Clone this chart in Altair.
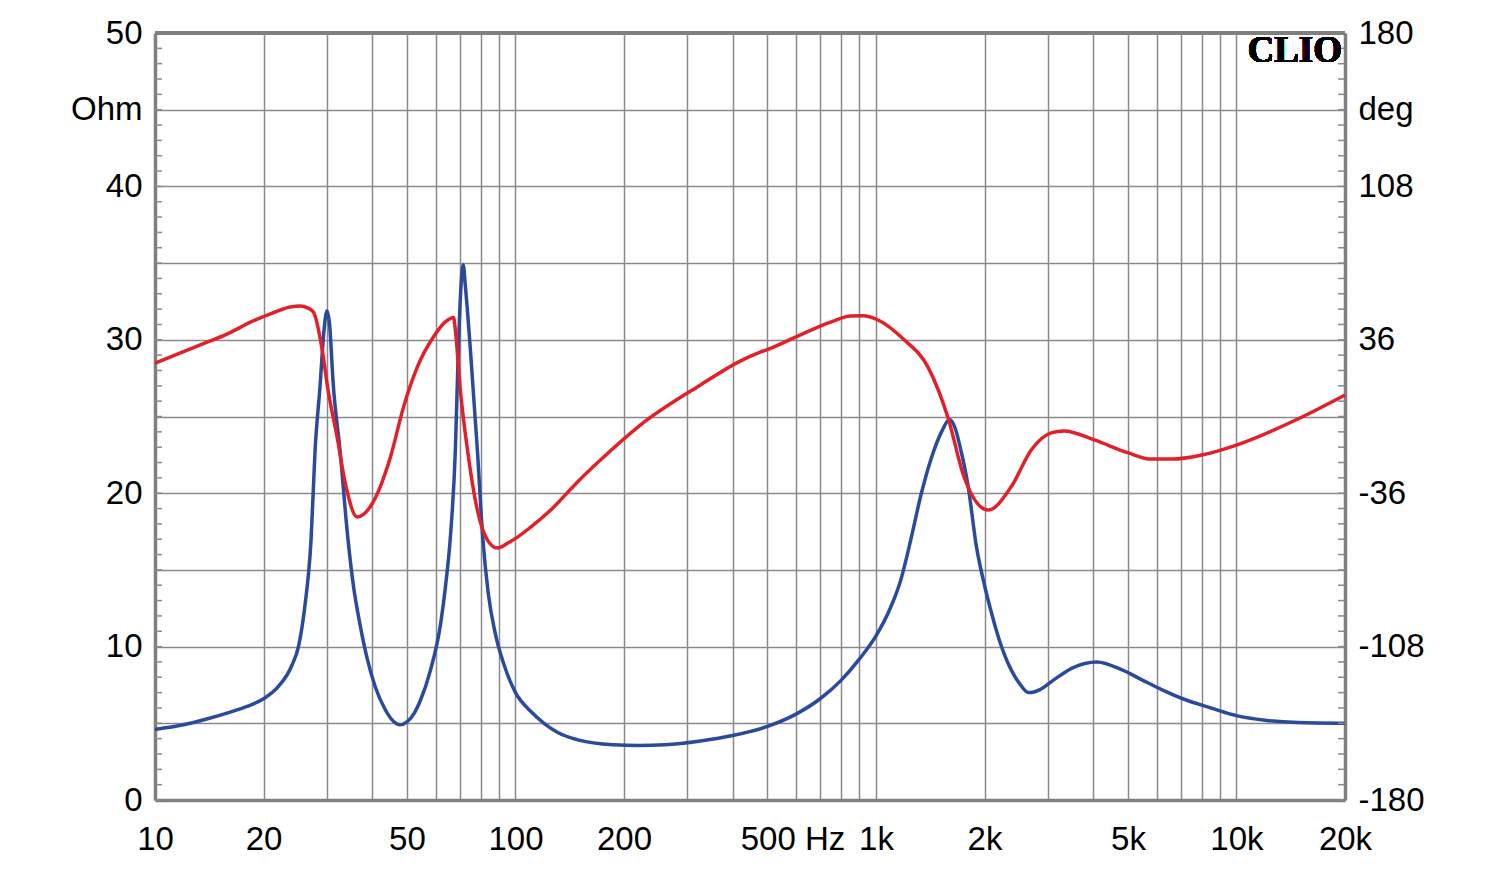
import altair as alt
import pandas as pd

# ---- data ----
imp_freq = [10, 12, 14, 16, 18, 20, 22, 24, 25, 26, 27.1, 27.8, 28.7, 29.4, 30.0, 30.5, 31.2, 32.6, 34.3,
            35.5, 37, 38.8, 40.8, 43.5, 46, 47.8, 50, 52.5, 54.5, 58, 62, 64, 65.9, 68.1, 69.4, 70.6, 71.6,
            72.6, 75, 78.4, 81.2, 84, 88, 93, 100, 110, 120, 131, 150, 186, 220, 260, 326, 400, 500, 600,
            700, 800, 900, 1000, 1100, 1170, 1250, 1330, 1420, 1520, 1600, 1660, 1720, 1800, 1900, 2000, 2080,
            2200, 2370, 2500, 2650, 2850, 3100, 3500, 4100, 4800, 5500, 6200, 7100, 8500, 10000, 12000,
            14800, 20000]
imp_ohm = [4.6, 4.9, 5.3, 5.7, 6.1, 6.6, 7.4, 8.8, 10.0, 12.5, 17.0, 22.8, 27.0, 30.5, 31.9, 31.0, 27.2, 22.8, 17.0,
           14.0, 11.5, 9.2, 7.4, 5.9, 5.1, 4.9, 5.1, 5.7, 6.5, 8.4, 11.5, 14.0, 17.0, 22.8, 29.3, 33.5, 34.9,
           33.5, 29.3, 22.8, 17.0, 13.5, 10.8, 8.8, 7.0, 5.8, 5.0, 4.4, 3.9, 3.6, 3.55, 3.6, 3.85, 4.2, 4.8, 5.6,
           6.6, 7.8, 9.2, 10.7, 12.6, 14.3, 17.0, 19.8, 22.2, 24.0, 24.8, 24.2, 22.8, 20.5, 16.5, 14.0, 12.4,
           10.4, 8.5, 7.6, 7.0, 7.2, 7.8, 8.6, 9.0, 8.5, 7.8, 7.2, 6.6, 6.0, 5.5, 5.2,
           5.05, 5.0]

ph_freq = [10, 12, 13.3, 16, 18.4, 21, 23.7, 25.3, 26.5, 27.5, 29.1, 30.2, 32.0, 33.7, 36.4, 39.5, 45.0, 48.9,
           53.4, 59.2, 64, 67.3, 68.1, 70.3, 73.6, 78.4, 83.6, 89.1, 95, 101.3, 110, 125, 150, 172, 222, 326,
           420, 479, 510, 615, 748, 851, 920, 1013, 1197, 1394, 1585, 1755, 2047, 2371, 2696, 3062, 3327,
           4033, 5012, 5807, 6650, 8000, 10000, 15000, 20000]
ph_deg = [25, 30.5, 33.5, 39, 44.3, 48.3, 51.4, 51.9, 51.0, 49.0, 31.2, 12.4, -9.6, -31.2, -47.2, -42.5, -19, 4.4,
          23.2, 37.3, 44.5, 46.5, 40.6, 12.4, -15.7, -44, -58, -61.7, -59.5, -56.6, -52, -44, -30, -20.4, -4, 14.8,
          26, 30.3, 32, 38.2, 44.3, 47.2, 47.3, 45.3, 36, 23.2, -0.7, -28.4, -43.9, -33, -15.7, -7.7, -6.8,
          -11, -17.1, -20, -20, -18.1, -13.4, -0.7, 10.1]

grid_freqs = [10, 20, 30, 40, 50, 60, 70, 80, 90, 100, 200, 300, 400, 500, 600, 700, 800, 900,
              1000, 2000, 3000, 4000, 5000, 6000, 7000, 8000, 9000, 10000, 20000]
ohm_ticks = list(range(0, 51, 5))
deg_ticks = list(range(-180, 181, 36))
minor_ohm = list(range(0, 51, 1))

W, H = 1190, 767
FONT = "Liberation Sans"
GRID = "#8a8a8a"
FRAME = "#7f7f7f"
BLUE = "#2a4a9c"
RED = "#e3202a"

imp_df = pd.DataFrame({"f": imp_freq, "ohm": imp_ohm})
ph_df = pd.DataFrame({"f": ph_freq, "deg": ph_deg})
minor_df = pd.DataFrame({"v": minor_ohm})

xscale = alt.Scale(type="log", domain=[10, 20000], nice=False)
yscale_l = alt.Scale(domain=[0, 50], nice=False, zero=False)
yscale_r = alt.Scale(domain=[-180, 180], nice=False, zero=False)

label_expr_x = ("datum.value==10?'10':datum.value==20?'20':datum.value==50?'50':datum.value==100?'100':"
                "datum.value==200?'200':datum.value==500?'500 Hz':datum.value==1000?'1k':datum.value==2000?'2k':"
                "datum.value==5000?'5k':datum.value==10000?'10k':datum.value==20000?'20k':''")

x_axis = alt.Axis(values=grid_freqs, grid=True, gridColor=GRID, gridWidth=1.5, gridOpacity=1,
                  ticks=False, domain=True, domainColor=FRAME, domainWidth=3.5,
                  labelExpr=label_expr_x, labelFont=FONT, labelFontSize=33,
                  labelColor="black", labelPadding=23, title=None, labelFlush=False, labelOverlap=False,
                  labelOffset={"condition": {"test": "datum.value == 500", "value": 25}, "value": 0})

y_axis_l = alt.Axis(values=ohm_ticks, grid=True, gridColor=GRID, gridWidth=1.5, gridOpacity=1,
                    ticks=False, domain=True, domainColor=FRAME, domainWidth=3.5,
                    labelExpr="datum.value==45?'Ohm':(datum.value%10==0?''+datum.value:'')",
                    labelFont=FONT, labelFontSize=33, labelColor="black", labelPadding=13,
                    title=None, labelFlush=False, labelOverlap=False)

y_axis_r = alt.Axis(values=deg_ticks, orient="right", grid=False, ticks=False,
                    domain=True, domainColor=FRAME, domainWidth=3.5,
                    labelExpr="datum.value==144?'deg':((datum.value+180)%72==0?''+datum.value:'')",
                    labelFont=FONT, labelFontSize=33, labelColor="black", labelPadding=13,
                    title=None, labelFlush=False, labelOverlap=False)

blue = alt.Chart(imp_df).mark_line(color=BLUE, strokeWidth=3.5, interpolate="monotone").encode(
    x=alt.X("f:Q", scale=xscale, axis=x_axis),
    y=alt.Y("ohm:Q", scale=yscale_l, axis=y_axis_l),
)

ticks_l = alt.Chart(minor_df).mark_rule(color=GRID, strokeWidth=1.5).encode(
    y=alt.Y("v:Q", scale=yscale_l, axis=None),
    x=alt.value(0), x2=alt.value(7),
)
ticks_r = alt.Chart(minor_df).mark_rule(color=GRID, strokeWidth=1.5).encode(
    y=alt.Y("v:Q", scale=yscale_l, axis=None),
    x=alt.value(W - 7), x2=alt.value(W),
)

top_edge = alt.Chart(imp_df).mark_rule(color=FRAME, strokeWidth=3.5).encode(
    y=alt.datum(50, scale=yscale_l, axis=None),
    x=alt.datum(10, scale=xscale), x2=alt.datum(20000),
)

clio = alt.Chart(imp_df).mark_text(text="CLIO", font="Liberation Serif", fontWeight="bold",
                                   fontSize=37, align="right", baseline="middle", dx=-3,
                                   color="black").encode(
    x=alt.datum(20000, scale=xscale),
    y=alt.datum(48.85, scale=yscale_l, axis=None),
)

red = alt.Chart(ph_df).mark_line(color=RED, strokeWidth=3.5, interpolate="monotone").encode(
    x=alt.X("f:Q", scale=xscale, axis=x_axis),
    y=alt.Y("deg:Q", scale=yscale_r, axis=y_axis_r),
)

chart = alt.layer(blue, ticks_l, ticks_r, top_edge, clio, red).resolve_scale(y="independent").properties(
    width=W, height=H,
    autosize=alt.AutoSizeParams(type="none"),
    padding={"left": 147, "top": 25, "right": 140, "bottom": 60},
).configure_view(stroke=FRAME, strokeWidth=3.5).configure(background="white")

chart.save("out.html", embed_options={"renderer": "svg", "actions": False})
